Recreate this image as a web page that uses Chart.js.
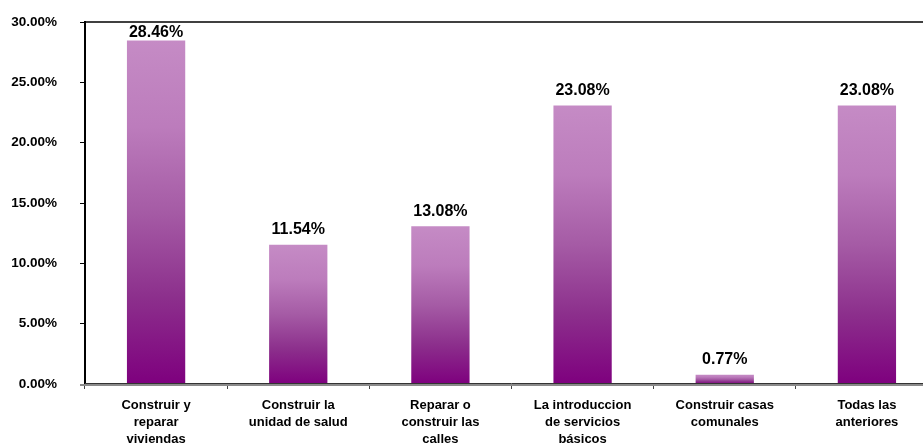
<!DOCTYPE html>
<html>
<head>
<meta charset="utf-8">
<script src="https://cdn.jsdelivr.net/npm/chart.js@4.4.1/dist/chart.umd.min.js"></script>
<style>
  html, body { margin: 0; padding: 0; background: #fff; overflow: hidden; }
  #wrap { width: 940px; height: 445px; }
</style>
</head>
<body>
<div id="wrap"><canvas id="chart" width="940" height="445"></canvas></div>
<script>
const categories = [
  ["Construir y", "reparar", "viviendas"],
  ["Construir la", "unidad de salud"],
  ["Reparar o", "construir las", "calles"],
  ["La introduccion", "de servicios", "básicos"],
  ["Construir casas", "comunales"],
  ["Todas las", "anteriores"]
];
const percentages = [28.46, 11.54, 13.08, 23.08, 0.77, 23.08];
const yTicks = [0, 5, 10, 15, 20, 25, 30];

const FONT = "'Liberation Sans', Arial, sans-serif";

// each bar gets its own light-to-dark purple fade
function barGradient(context) {
  const chart = context.chart;
  const area = chart.chartArea;
  if (!area) return "#a040a0";
  const y = chart.scales.y;
  const top = y.getPixelForValue(context.raw);
  const base = y.getPixelForValue(0);
  const g = chart.ctx.createLinearGradient(0, top, 0, base);
  g.addColorStop(0, "#c58bc5");
  g.addColorStop(0.25, "#bc7cbc");
  g.addColorStop(0.5, "#a55ba5");
  g.addColorStop(0.75, "#8c2f8c");
  g.addColorStop(1, "#7e007e");
  return g;
}

const framePlugin = {
  id: "frame",
  afterDatasetsDraw(chart) {
    const { ctx, chartArea, scales } = chart;
    ctx.save();
    // top border
    ctx.strokeStyle = "#000";
    ctx.lineWidth = 1.5;
    ctx.beginPath();
    ctx.moveTo(chartArea.left, chartArea.top);
    ctx.lineTo(chartArea.right, chartArea.top);
    ctx.stroke();
    // double baseline at 0
    const y0 = scales.y.getPixelForValue(0);
    ctx.strokeStyle = "#8a8a8a";
    ctx.lineWidth = 2;
    ctx.beginPath();
    ctx.moveTo(chartArea.left - 5, y0 + 1);
    ctx.lineTo(chartArea.right, y0 + 1);
    ctx.stroke();
    ctx.strokeStyle = "#333";
    ctx.lineWidth = 1;
    ctx.beginPath();
    ctx.moveTo(chartArea.left, y0 - 0.5);
    ctx.lineTo(chartArea.right, y0 - 0.5);
    ctx.stroke();

    // value labels
    const meta = chart.getDatasetMeta(0);
    ctx.fillStyle = "#000";
    ctx.font = "bold 16px " + FONT;
    ctx.textAlign = "center";
    ctx.textBaseline = "middle";
    meta.data.forEach((bar, i) => {
      const ty = Math.max(bar.y - 15, chartArea.top + 11);
      ctx.fillText(percentages[i].toFixed(2) + "%", bar.x, ty);
    });
    ctx.restore();
  }
};

new Chart(document.getElementById("chart").getContext("2d"), {
  type: "bar",
  data: {
    labels: categories,
    datasets: [{
      data: percentages,
      backgroundColor: barGradient,
      borderWidth: 0,
      categoryPercentage: 1,
      barPercentage: 0.41
    }]
  },
  options: {
    responsive: false,
    animation: false,
    layout: { padding: { top: 22, right: 2, left: 0, bottom: 0 } },
    plugins: {
      legend: { display: false },
      tooltip: { enabled: false }
    },
    scales: {
      x: {
        offset: true,
        afterFit(scale) { scale.height = 61; },
        grid: {
          offset: true,
          drawOnChartArea: false,
          drawTicks: true,
          tickLength: 5,
          color: "#444"
        },
        border: { display: false },
        ticks: {
          color: "#000",
          padding: 8,
          maxRotation: 0,
          autoSkip: false,
          font: { family: FONT, size: 13, weight: "bold", lineHeight: 1.3 }
        }
      },
      y: {
        min: 0,
        max: 30,
        afterFit(scale) {
          scale.width = 85;
          scale.paddingTop = 0;
          scale.paddingBottom = 0;
        },
        afterBuildTicks(scale) { scale.ticks = yTicks.map(v => ({ value: v })); },
        grid: {
          drawOnChartArea: false,
          drawTicks: true,
          tickLength: 5,
          color: "#000"
        },
        border: { display: true, color: "#000", width: 2 },
        ticks: {
          color: "#000",
          padding: 23,
          font: { family: FONT, size: 13.5, weight: "bold" },
          callback: v => v.toFixed(2) + "%"
        }
      }
    }
  },
  plugins: [framePlugin]
});
</script>
</body>
</html>
